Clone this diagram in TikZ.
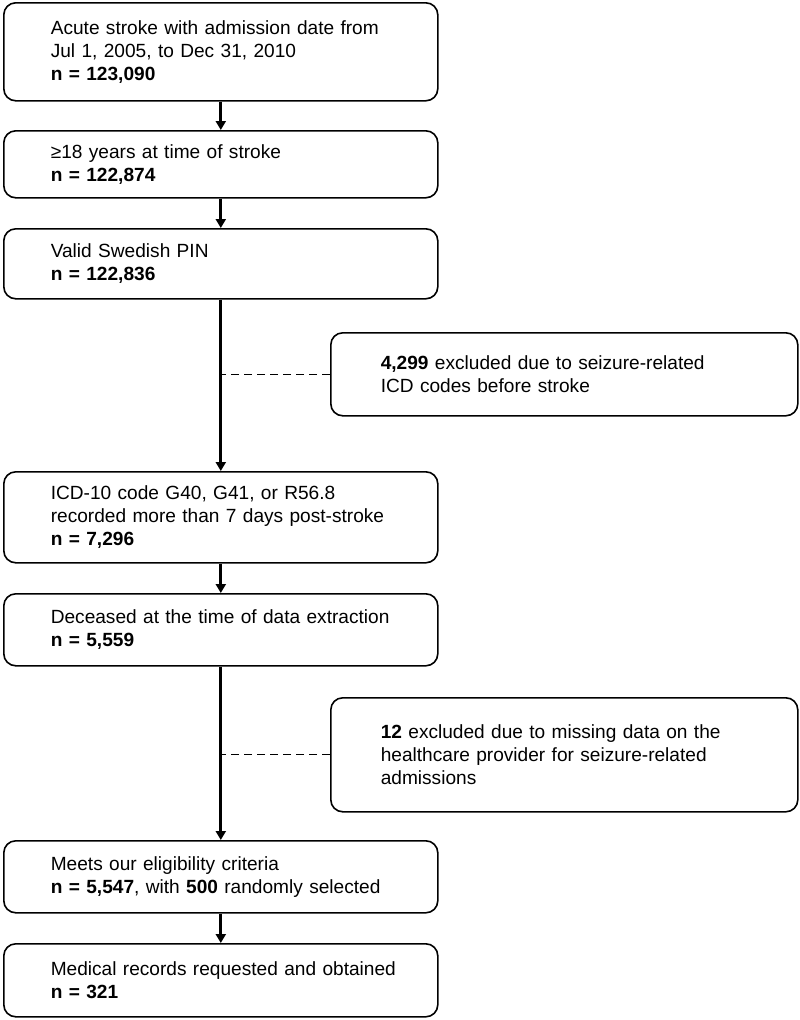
\documentclass[tikz,border=0pt]{standalone}
\usepackage{fontspec}
\setmainfont{Liberation Sans}
\usetikzlibrary{arrows.meta}
\begin{document}
\begin{tikzpicture}[x=1pt,y=-1pt,
  mbox/.style={draw, rounded corners=12pt, line width=1.6pt, inner xsep=0pt, inner ysep=0pt,
    text width=434pt, anchor=north west, font=\fontsize{19.1}{23}\selectfont,
    execute at begin node={\leftskip=47pt\rightskip=0pt plus 1fil\relax}},
  sbox/.style={draw, rounded corners=12pt, line width=1.6pt, inner xsep=0pt, inner ysep=0pt,
    text width=467pt, anchor=north west, font=\fontsize{19.1}{23}\selectfont,
    execute at begin node={\leftskip=50pt\rightskip=0pt plus 1fil\relax}},
  arr/.style={line width=2.8pt, -{Triangle[length=9pt,width=10pt]}},
  dashline/.style={line width=1.2pt, dash pattern=on 8pt off 5pt}]
\useasboundingbox (0,0) rectangle (800,1020);
\node[mbox, minimum height=98pt] (b1) at (3,2) {Acute stroke with admission date from\\ Jul 1, 2005, to Dec 31, 2010\\ \textbf{n = 123,090}};
\node[mbox, minimum height=67pt] (b2) at (3,130) {≥18 years at time of stroke\\ \textbf{n = 122,874}};
\node[mbox, minimum height=70pt] (b3) at (3,228) {Valid Swedish PIN\\ \textbf{n = 122,836}};
\node[sbox, minimum height=83pt] (s1) at (330,332) {\textbf{4,299} excluded due to seizure-related\\ ICD codes before stroke};
\node[mbox, minimum height=91pt] (b4) at (3,471) {ICD-10 code G40, G41, or R56.8\\ recorded more than 7 days post-stroke\\ \textbf{n = 7,296}};
\node[mbox, minimum height=72pt] (b5) at (3,593) {Deceased at the time of data extraction\\ \textbf{n = 5,559}};
\node[sbox, minimum height=114pt] (s2) at (330,697) {\textbf{12} excluded due to missing data on the\\ healthcare provider for seizure-related\\ admissions};
\node[mbox, minimum height=72pt] (b6) at (3,840) {Meets our eligibility criteria\\ \textbf{n = 5,547}, with \textbf{500} randomly selected};
\node[mbox, minimum height=73pt] (b7) at (3,943) {Medical records requested and obtained\\ \textbf{n = 321}};
\draw[arr] (b1.south) -- (b2.north);
\draw[arr] (b2.south) -- (b3.north);
\draw[arr] (b3.south) -- (b4.north);
\draw[arr] (b4.south) -- (b5.north);
\draw[arr] (b5.south) -- (b6.north);
\draw[arr] (b6.south) -- (b7.north);
\draw[dashline] (s1.west) -- (s1.west -| b3.south);
\draw[dashline] (s2.west) -- (s2.west -| b5.south);
\end{tikzpicture}
\end{document}
